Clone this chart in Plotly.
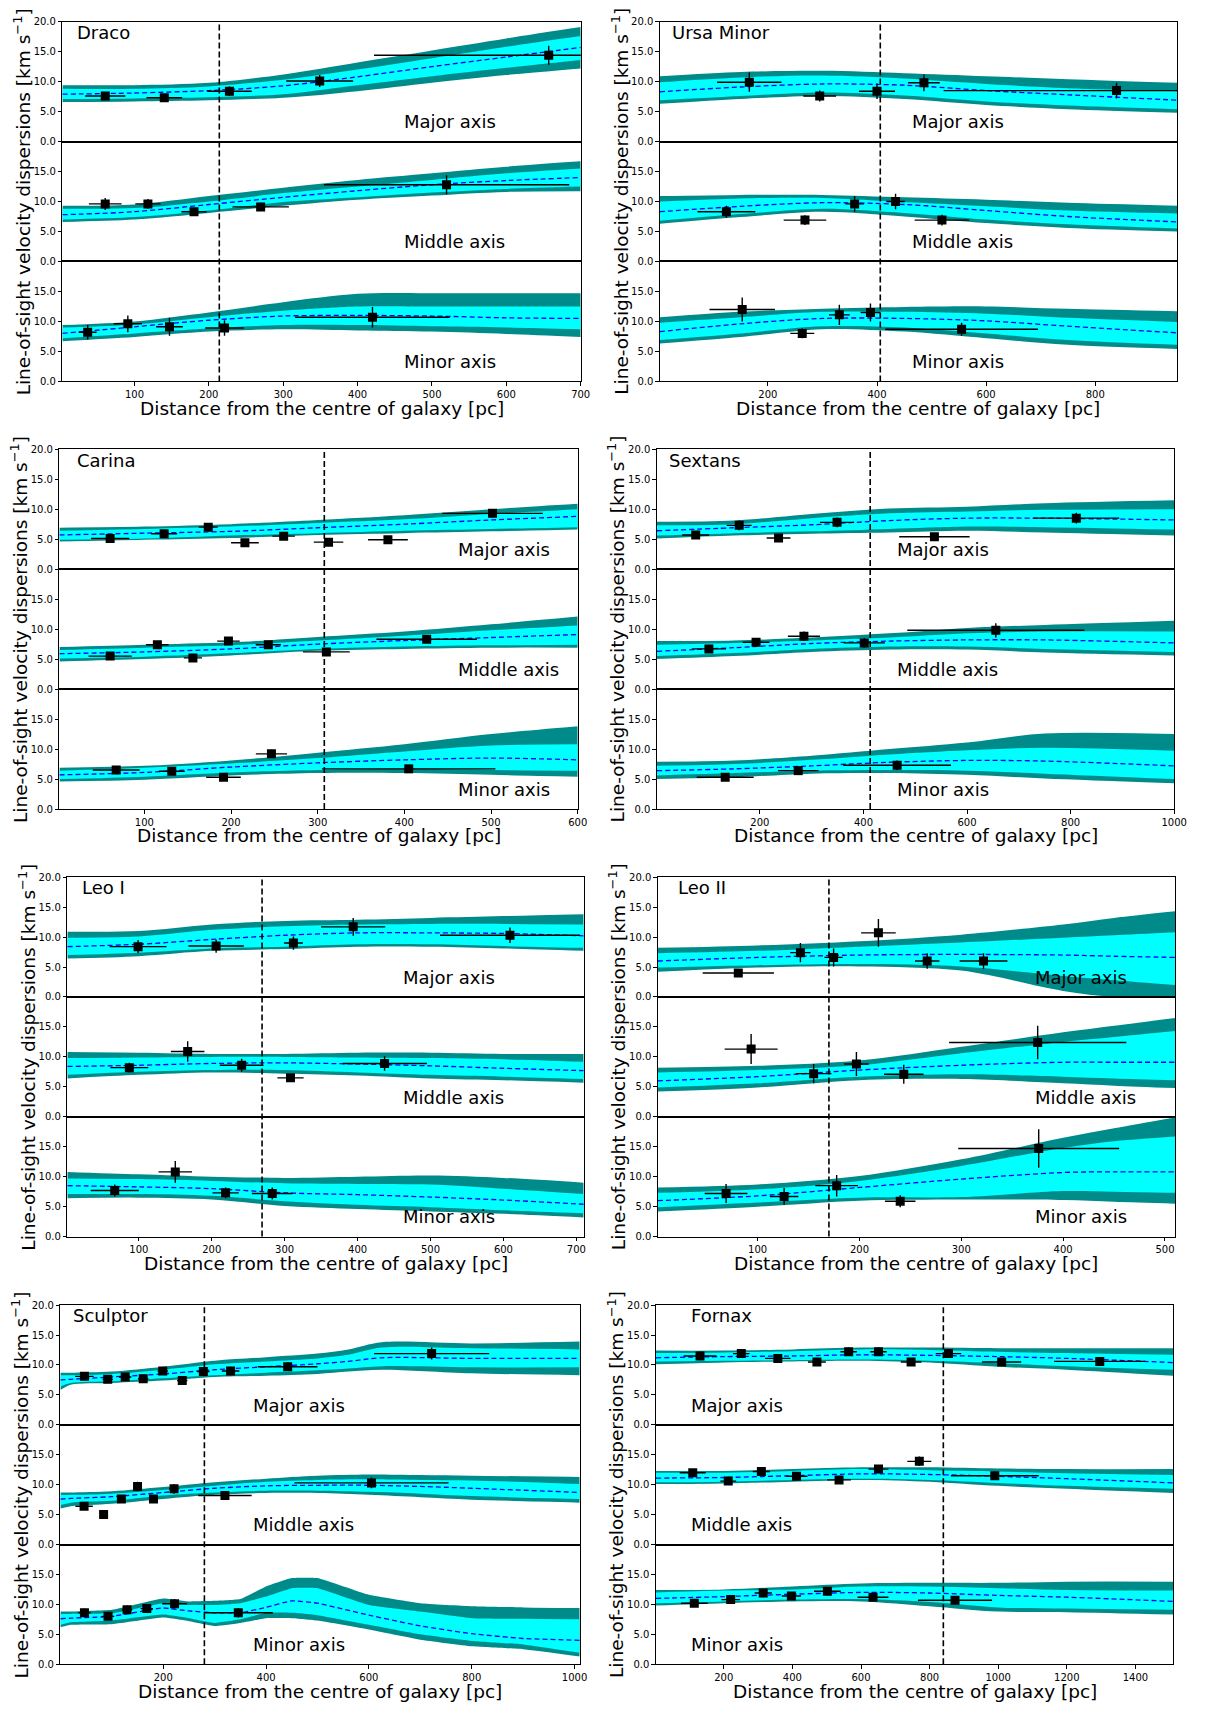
import plotly.graph_objects as go

PAGE_OFF = 8            # browser body margin
W, H = 1194, 1697       # figure size so that page = 1210 x 1713
FONT = "DejaVu Sans"

# ---------------- chart metadata ----------------
galaxies = ["Draco", "Ursa Minor", "Carina", "Sextans", "Leo I", "Leo II", "Sculptor", "Fornax"]
axis_labels = ["Major axis", "Middle axis", "Minor axis"]
x_ranges = [[3, 700], [2, 950], [2, 600], [1, 1000], [2, 710], [2, 510], [0, 1010], [2, 1510]]
x_ticks = [[100, 200, 300, 400, 500, 600, 700], [200, 400, 600, 800], [100, 200, 300, 400, 500, 600],
           [200, 400, 600, 800, 1000], [100, 200, 300, 400, 500, 600, 700], [100, 200, 300, 400, 500],
           [200, 400, 600, 800, 1000], [200, 400, 600, 800, 1000, 1200, 1400]]
y_ticks = [0, 5, 10, 15, 20]
vline_r = [214, 406, 307.6, 413, 269, 170, 280, 840]
name_x = [20, 20, 20, 20, 20, 20, 20, 100]
label_x = [460, 460, 460, 460, 460, 370, 370, 100]

# band order in each *_band list: [outer upper, inner upper, median, inner lower, outer lower]
# points: [radius, dispersion, radius error, dispersion error]

# ---------------- Draco ----------------
draco_r = [3, 100, 200, 300, 400, 500, 600, 700]
draco_major_band = [[9.4, 9.4, 9.8, 11.2, 13.2, 15.2, 17.2, 19.1],
                    [8.8, 8.8, 9.2, 10.3, 12.0, 13.9, 15.8, 17.6],
                    [7.9, 8.1, 8.5, 9.3, 10.8, 12.5, 14.1, 15.7],
                    [7.1, 7.2, 7.4, 7.9, 9.4, 10.9, 12.3, 13.6],
                    [6.6, 6.7, 6.9, 7.3, 8.4, 9.8, 11.1, 12.2]]
draco_major_pts = [[60.6, 7.6, 27, 0.6], [140, 7.3, 24, 0.5], [227.6, 8.4, 30, 0.8],
                   [349, 10.1, 45, 1.0], [657, 14.4, 235, 1.6]]
draco_middle_band = [[9.3, 9.5, 10.9, 12.3, 13.6, 14.7, 15.8, 16.7],
                     [8.8, 8.9, 10.0, 11.4, 12.5, 13.6, 14.7, 15.5],
                     [7.8, 8.3, 9.5, 10.7, 11.8, 12.8, 13.5, 14.0],
                     [7.0, 7.4, 8.5, 9.9, 10.7, 11.5, 12.1, 12.5],
                     [6.6, 7.0, 8.1, 9.3, 10.3, 11.0, 11.6, 11.7]]
draco_middle_pts = [[60.6, 9.6, 22, 1.0], [118, 9.6, 17, 0.8], [180, 8.3, 17, 0.6],
                    [269.6, 9.1, 38, 0.7], [519.6, 12.8, 165, 1.6]]
draco_minor_band = [[9.4, 10.0, 11.5, 13.2, 14.6, 14.7, 14.7, 14.7],
                    [9.0, 9.5, 10.7, 11.8, 12.5, 12.5, 12.5, 12.5],
                    [8.0, 9.1, 10.2, 10.9, 11.0, 10.9, 10.6, 10.5],
                    [7.2, 8.0, 8.8, 9.4, 9.4, 9.2, 9.0, 8.7],
                    [6.7, 7.4, 8.3, 8.7, 8.5, 8.3, 7.9, 7.4]]
draco_minor_pts = [[37, 8.2, 12, 1.2], [91, 9.6, 19, 1.4], [147, 9.1, 18, 1.5],
                   [221, 8.9, 26, 1.3], [420, 10.7, 104, 1.7]]

# ---------------- Ursa Minor ----------------
umi_r = [2, 150, 300, 450, 600, 750, 950]
umi_major_band = [[10.9, 11.6, 11.8, 11.4, 10.9, 10.4, 9.8],
                  [9.9, 10.7, 11.0, 10.5, 9.6, 8.9, 8.4],
                  [8.3, 9.1, 9.6, 9.4, 8.5, 7.8, 6.9],
                  [6.9, 7.6, 8.2, 7.7, 6.7, 6.0, 5.4],
                  [6.3, 7.1, 7.6, 7.1, 6.1, 5.4, 4.8]]
umi_major_pts = [[166, 9.9, 59, 1.6], [295, 7.6, 30, 0.9], [400, 8.4, 33, 1.3],
                 [486, 9.8, 29, 1.4], [839, 8.5, 317, 1.3]]
umi_middle_band = [[10.9, 11.1, 11.1, 10.7, 10.3, 9.8, 9.3],
                   [10.0, 10.5, 10.6, 9.9, 9.2, 8.5, 8.0],
                   [8.3, 9.2, 9.8, 9.5, 8.5, 7.5, 6.6],
                   [6.8, 7.9, 8.8, 8.1, 7.0, 6.2, 5.5],
                   [6.3, 7.4, 8.3, 7.5, 6.4, 5.6, 5.0]]
umi_middle_pts = [[124, 8.3, 53, 1.0], [268, 6.9, 39, 0.8], [359, 9.6, 17, 1.3],
                  [434, 10.0, 17, 1.3], [519, 6.9, 50, 0.9]]
umi_minor_band = [[10.7, 11.6, 12.1, 12.4, 12.5, 12.1, 11.7],
                  [9.8, 10.7, 11.6, 11.6, 11.3, 10.6, 9.9],
                  [8.3, 9.6, 10.5, 10.5, 10.1, 9.2, 8.1],
                  [6.9, 8.0, 9.2, 9.0, 8.0, 6.9, 6.1],
                  [6.3, 7.4, 8.7, 8.3, 7.2, 6.1, 5.4]]
umi_minor_pts = [[153, 12.0, 60, 2.0], [263, 8.0, 22, 0.8], [331, 11.1, 19, 1.7],
                 [388, 11.5, 18, 1.5], [555, 8.7, 140, 1.1]]

# ---------------- Carina ----------------
car_r = [2, 100, 200, 300, 400, 500, 600]
car_major_band = [[6.9, 7.1, 7.5, 8.2, 9.0, 10.0, 10.9],
                  [6.4, 6.7, 7.1, 7.7, 8.3, 9.2, 10.0],
                  [5.7, 6.0, 6.3, 6.9, 7.5, 8.2, 8.8],
                  [4.9, 5.1, 5.6, 6.0, 6.4, 6.7, 7.0],
                  [4.6, 4.9, 5.2, 5.7, 6.0, 6.3, 6.6]]
car_major_pts = [[60.5, 5.1, 22, 0.5], [122.8, 5.9, 15, 0.5], [173.7, 7.0, 11, 0.5],
                 [216, 4.4, 16, 0.4], [260.7, 5.5, 13, 0.5], [312.5, 4.5, 17, 0.5],
                 [381, 4.9, 23, 0.4], [501.7, 9.3, 58, 0.7]]
car_middle_band = [[7.0, 7.4, 7.8, 8.7, 9.6, 10.8, 12.1],
                   [6.5, 6.9, 7.3, 8.1, 8.9, 9.8, 10.6],
                   [5.9, 6.2, 6.7, 7.5, 8.1, 8.6, 9.1],
                   [5.1, 5.4, 6.0, 6.7, 7.1, 7.3, 7.4],
                   [4.6, 5.0, 5.6, 6.4, 6.7, 6.9, 6.9]]
car_middle_pts = [[60.5, 5.5, 25, 0.4], [115, 7.4, 13, 0.6], [156, 5.2, 10.5, 0.4],
                  [197, 8.0, 13, 0.6], [243, 7.4, 14.5, 0.6], [310, 6.2, 27, 0.5],
                  [425.7, 8.3, 58, 0.6]]
car_minor_band = [[6.9, 7.2, 8.1, 9.4, 10.8, 12.5, 13.8],
                  [6.4, 6.9, 7.6, 8.5, 9.6, 10.6, 10.8],
                  [5.7, 6.1, 7.0, 7.7, 8.2, 8.5, 8.2],
                  [5.0, 5.4, 6.1, 6.5, 6.7, 6.5, 6.4],
                  [4.6, 4.9, 5.6, 6.0, 6.0, 5.7, 5.4]]
car_minor_pts = [[67.5, 6.5, 27, 0.4], [131.6, 6.3, 15, 0.4], [191.3, 5.3, 20, 0.3],
                 [246.6, 9.2, 18, 0.7], [405, 6.7, 100, 0.5]]

# ---------------- Sextans ----------------
sex_r = [1, 150, 300, 450, 600, 750, 1000]
sex_major_band = [[7.9, 8.1, 9.2, 10.1, 10.4, 11.0, 11.5],
                  [7.3, 7.5, 8.5, 9.3, 9.6, 9.9, 10.0],
                  [6.4, 6.9, 7.4, 8.1, 8.5, 8.5, 8.2],
                  [5.6, 6.0, 6.3, 6.7, 7.1, 7.0, 6.6],
                  [5.1, 5.6, 5.9, 6.1, 6.4, 6.1, 5.6]]
sex_major_pts = [[76, 5.7, 26, 0.6], [160, 7.3, 24, 0.8], [236, 5.2, 23, 0.5],
                 [349, 7.8, 33, 0.8], [537, 5.4, 68, 0.5], [811, 8.5, 83, 0.9]]
sex_middle_band = [[8.0, 8.1, 8.6, 9.3, 10.2, 10.7, 11.4],
                   [7.4, 7.7, 8.1, 8.6, 9.3, 9.6, 9.6],
                   [6.3, 6.9, 7.6, 8.0, 8.2, 8.2, 7.7],
                   [5.5, 6.0, 6.7, 7.1, 7.1, 6.7, 6.2],
                   [5.0, 5.5, 6.2, 6.6, 6.6, 6.1, 5.6]]
sex_middle_pts = [[101.5, 6.7, 33, 0.7], [192.6, 7.8, 26, 0.7], [285, 8.8, 31, 0.8],
                  [401.5, 7.7, 40, 0.8], [655.6, 9.8, 171, 1.2]]
sex_minor_band = [[7.9, 8.1, 8.9, 10.0, 11.1, 12.6, 12.5],
                  [7.2, 7.5, 8.2, 9.1, 9.8, 10.2, 9.7],
                  [6.4, 6.7, 7.2, 7.8, 8.1, 8.0, 7.2],
                  [5.6, 6.0, 6.4, 6.5, 6.4, 5.9, 5.0],
                  [5.0, 5.3, 5.9, 6.0, 5.7, 5.1, 4.3]]
sex_minor_pts = [[133, 5.3, 55, 0.4], [274, 6.4, 39, 0.6], [465, 7.3, 104, 0.8]]

# ---------------- Leo I ----------------
leo1_r = [2, 100, 200, 300, 400, 500, 600, 710]
leo1_major_band = [[10.9, 11.0, 12.1, 12.7, 12.9, 13.2, 13.5, 13.8],
                   [9.9, 10.1, 11.2, 11.8, 12.1, 12.2, 12.2, 12.1],
                   [8.4, 8.8, 9.6, 10.3, 10.7, 10.7, 10.6, 10.2],
                   [7.0, 7.4, 8.1, 8.4, 8.8, 8.8, 8.5, 8.2],
                   [6.4, 6.8, 7.7, 8.0, 8.4, 8.4, 8.1, 7.7]]
leo1_major_pts = [[99, 8.4, 39, 1.1], [206, 8.5, 38, 1.1], [312, 9.0, 13, 1.1],
                  [394, 11.7, 44, 1.5], [609, 10.3, 96, 1.3]]
leo1_middle_band = [[10.8, 10.7, 10.5, 10.5, 10.7, 10.7, 10.5, 10.5],
                    [9.8, 9.9, 10.0, 10.0, 9.9, 9.8, 9.6, 9.2],
                    [8.4, 8.6, 8.9, 9.0, 8.8, 8.5, 8.1, 7.7],
                    [7.0, 7.5, 7.8, 7.8, 7.4, 7.0, 6.7, 6.3],
                    [6.4, 7.0, 7.4, 7.2, 6.9, 6.4, 6.1, 5.7]]
leo1_middle_pts = [[87, 8.2, 26, 0.8], [167, 10.9, 23, 1.7], [241, 8.6, 30, 1.1],
                   [308, 6.5, 18, 0.6], [437, 8.9, 58, 1.2]]
leo1_minor_band = [[10.8, 10.4, 10.0, 9.8, 10.0, 10.2, 9.8, 9.0],
                   [9.7, 9.6, 9.3, 8.9, 8.8, 8.7, 8.0, 7.1],
                   [8.5, 8.3, 8.0, 7.3, 7.0, 6.6, 6.1, 5.4],
                   [7.1, 7.1, 6.8, 5.9, 5.3, 4.9, 4.4, 3.9],
                   [6.4, 6.5, 6.2, 5.1, 4.6, 4.2, 3.8, 3.2]]
leo1_minor_pts = [[67, 7.7, 33, 1.0], [150, 10.8, 23, 1.8], [219, 7.3, 18, 0.9],
                  [283, 7.2, 28, 1.0]]

# ---------------- Leo II ----------------
leo2_r = [2, 100, 200, 300, 400, 450, 510]
leo2_major_band = [[8.2, 8.6, 9.3, 10.4, 12.1, 13.2, 14.3],
                   [7.3, 7.7, 8.4, 9.1, 9.9, 10.3, 10.8],
                   [6.0, 6.6, 7.0, 7.1, 7.0, 6.8, 6.6],
                   [4.9, 5.3, 5.5, 5.1, 3.5, 2.8, 2.0],
                   [4.2, 4.9, 5.1, 4.4, 1.0, 0.0, 0.0]]
leo2_major_pts = [[81, 4.0, 35, 0.5], [142, 7.4, 10, 1.6], [174.6, 6.6, 9, 1.5],
                  [218.6, 10.7, 17, 2.3], [266.5, 6.0, 12, 1.3], [321.8, 6.0, 23.5, 1.3]]
leo2_middle_band = [[8.2, 8.5, 9.4, 11.7, 14.1, 15.2, 16.5],
                    [7.4, 7.8, 8.6, 10.6, 12.5, 13.3, 14.3],
                    [6.0, 6.7, 7.8, 8.6, 9.1, 9.1, 9.1],
                    [4.9, 5.6, 6.7, 7.1, 6.7, 6.4, 6.1],
                    [4.2, 4.9, 6.1, 6.3, 5.6, 5.2, 4.8]]
leo2_middle_pts = [[93.6, 11.3, 26, 2.5], [155, 7.2, 17.5, 1.6], [197, 8.8, 12, 2.0],
                   [243.5, 7.1, 19.4, 1.6], [375, 12.4, 87, 2.8]]
leo2_minor_band = [[8.2, 8.7, 10.1, 12.9, 16.5, 18.1, 19.9],
                   [7.3, 7.9, 9.3, 11.8, 14.8, 15.9, 16.7],
                   [6.0, 6.8, 8.2, 9.6, 10.7, 10.8, 10.8],
                   [4.9, 5.7, 6.5, 6.6, 7.6, 7.5, 7.3],
                   [4.2, 5.0, 6.0, 6.2, 6.1, 5.8, 5.5]]
leo2_minor_pts = [[69, 7.2, 21, 1.6], [126, 6.7, 14, 1.4], [177.6, 8.5, 21, 1.8],
                  [240, 5.9, 15, 1.0], [376, 14.7, 79, 3.2]]

# ---------------- Sculptor ----------------
scl_major_r = [0, 20, 100, 200, 300, 400, 500, 560, 625, 800, 1010]
scl_major_band = [[8.7, 8.7, 8.9, 9.7, 10.7, 11.3, 11.9, 12.6, 13.8, 13.6, 13.9],
                  [8.3, 8.3, 8.5, 9.2, 10.1, 10.6, 11.1, 11.7, 12.9, 12.8, 12.6],
                  [7.5, 7.6, 8.0, 8.5, 9.2, 9.7, 10.2, 10.6, 11.2, 11.1, 11.1],
                  [6.4, 7.0, 7.3, 7.8, 8.3, 8.7, 9.1, 9.4, 9.8, 9.6, 9.6],
                  [5.8, 6.7, 7.0, 7.4, 8.0, 8.2, 8.5, 8.9, 9.2, 8.6, 8.3]]
scl_major_pts = [[46.7, 8.1, 18, 0.6], [92, 7.6, 10, 0.5], [126, 8.0, 12, 0.5],
                 [161, 7.7, 10, 0.5], [199, 9.0, 10, 0.6], [237, 7.4, 10, 0.6],
                 [278, 8.9, 12, 0.6], [331, 9.0, 17, 0.7], [442, 9.7, 58, 0.7],
                 [722, 11.9, 112, 1.0]]
scl_middle_r = [0, 20, 100, 200, 300, 400, 500, 600, 700, 800, 1010]
scl_middle_band = [[8.7, 8.7, 8.9, 9.6, 10.4, 11.0, 11.5, 11.7, 11.6, 11.5, 11.3],
                   [8.3, 8.3, 8.5, 9.1, 9.8, 10.5, 10.8, 10.9, 10.8, 10.7, 10.1],
                   [7.6, 7.7, 8.0, 8.7, 9.4, 9.8, 9.9, 9.9, 9.7, 9.4, 8.7],
                   [6.6, 7.0, 7.3, 8.2, 8.7, 9.0, 9.0, 8.8, 8.5, 8.1, 7.6],
                   [6.0, 6.4, 6.8, 7.6, 8.3, 8.6, 8.6, 8.3, 7.9, 7.5, 7.0]]
scl_middle_pts = [[46, 6.4, 17, 0.5], [84, 5.0, 5, 0.4], [118.5, 7.6, 8, 0.6],
                  [150, 9.7, 8, 0.8], [181, 7.6, 8, 0.6], [221, 9.3, 10, 0.8],
                  [320, 8.2, 52, 0.6], [605, 10.3, 150, 0.9]]
scl_minor_r = [0, 20, 100, 200, 250, 300, 350, 400, 450, 500, 600, 700, 800, 900, 1010]
scl_minor_band = [[8.8, 8.8, 9.1, 11.0, 10.5, 10.6, 10.9, 13.0, 14.4, 14.4, 11.6, 10.2, 9.7, 9.5, 9.4],
                  [8.4, 8.4, 8.5, 10.2, 9.9, 9.9, 10.2, 11.3, 12.7, 12.7, 9.9, 8.8, 7.7, 7.6, 7.5],
                  [7.6, 7.7, 8.0, 9.4, 8.9, 8.6, 8.6, 9.5, 10.6, 10.2, 8.2, 6.4, 5.1, 4.3, 4.0],
                  [6.6, 7.0, 7.3, 8.3, 7.7, 6.9, 7.5, 8.6, 8.6, 8.2, 6.6, 5.0, 3.9, 3.3, 1.9],
                  [6.2, 6.6, 6.7, 7.8, 7.2, 6.4, 6.9, 7.7, 7.7, 7.3, 5.8, 4.1, 3.0, 2.5, 1.3]]
scl_minor_pts = [[46.7, 8.6, 12, 0.7], [92.6, 8.0, 12, 0.6], [129.6, 9.1, 10, 0.7],
                 [168, 9.3, 12, 0.7], [222, 10.1, 24, 0.8], [346, 8.6, 67, 0.8]]

# ---------------- Fornax ----------------
fnx_r = [2, 200, 400, 600, 800, 1000, 1200, 1510]
fnx_major_band = [[12.4, 12.4, 12.6, 12.9, 12.9, 12.8, 12.8, 12.8],
                  [12.0, 12.1, 12.3, 12.6, 12.5, 12.2, 12.0, 11.7],
                  [11.2, 11.4, 11.5, 11.7, 11.6, 11.4, 11.1, 10.4],
                  [10.6, 10.7, 10.8, 10.9, 10.7, 10.3, 9.8, 9.2],
                  [10.1, 10.4, 10.6, 10.7, 10.4, 9.7, 9.2, 8.2]]
fnx_major_pts = [[130.7, 11.5, 48, 0.7], [251, 11.9, 24, 0.6], [357.5, 11.1, 37, 0.6],
                 [471.5, 10.5, 26, 0.5], [564, 12.2, 24, 0.7], [651, 12.2, 24, 0.7],
                 [746, 10.5, 30, 0.5], [855, 11.9, 37, 0.7], [1010, 10.5, 57, 0.6],
                 [1296, 10.6, 133, 0.6]]
fnx_middle_band = [[12.3, 12.3, 12.6, 12.9, 12.9, 12.7, 12.6, 12.6],
                   [12.0, 12.0, 12.3, 12.6, 12.4, 12.2, 11.9, 11.6],
                   [11.1, 11.2, 11.5, 11.8, 11.7, 11.4, 11.0, 10.3],
                   [10.4, 10.5, 10.8, 11.0, 10.8, 10.3, 9.8, 9.3],
                   [10.1, 10.2, 10.5, 10.8, 10.5, 9.8, 9.3, 8.6]]
fnx_middle_pts = [[109.5, 12.0, 38, 0.6], [213, 10.6, 23, 0.5], [309.5, 12.2, 25, 0.7],
                  [412, 11.4, 32, 0.6], [536, 10.8, 35, 0.5], [651, 12.6, 29, 0.7],
                  [770, 13.9, 35, 0.8], [990, 11.5, 128, 0.7]]
fnx_minor_band = [[12.4, 12.5, 13.0, 13.5, 13.6, 13.6, 13.8, 13.8],
                  [12.0, 12.3, 12.5, 13.0, 13.0, 12.7, 12.4, 12.3],
                  [11.0, 11.3, 11.7, 12.0, 11.9, 11.5, 11.2, 10.5],
                  [10.2, 10.5, 10.8, 10.9, 10.4, 9.5, 9.3, 9.1],
                  [9.8, 10.2, 10.5, 10.5, 9.7, 8.8, 8.7, 8.3]]
fnx_minor_pts = [[114, 10.2, 39, 0.6], [220, 10.8, 27, 0.6], [315, 11.9, 25, 0.7],
                 [397, 11.4, 28, 0.6], [502, 12.2, 39, 0.7], [635, 11.2, 45, 0.6],
                 [874, 10.7, 108, 0.6]]

# gather per galaxy: list of (r, band, pts) for major / middle / minor
panels = [
    [(draco_r, draco_major_band, draco_major_pts), (draco_r, draco_middle_band, draco_middle_pts),
     (draco_r, draco_minor_band, draco_minor_pts)],
    [(umi_r, umi_major_band, umi_major_pts), (umi_r, umi_middle_band, umi_middle_pts),
     (umi_r, umi_minor_band, umi_minor_pts)],
    [(car_r, car_major_band, car_major_pts), (car_r, car_middle_band, car_middle_pts),
     (car_r, car_minor_band, car_minor_pts)],
    [(sex_r, sex_major_band, sex_major_pts), (sex_r, sex_middle_band, sex_middle_pts),
     (sex_r, sex_minor_band, sex_minor_pts)],
    [(leo1_r, leo1_major_band, leo1_major_pts), (leo1_r, leo1_middle_band, leo1_middle_pts),
     (leo1_r, leo1_minor_band, leo1_minor_pts)],
    [(leo2_r, leo2_major_band, leo2_major_pts), (leo2_r, leo2_middle_band, leo2_middle_pts),
     (leo2_r, leo2_minor_band, leo2_minor_pts)],
    [(scl_major_r, scl_major_band, scl_major_pts), (scl_middle_r, scl_middle_band, scl_middle_pts),
     (scl_minor_r, scl_minor_band, scl_minor_pts)],
    [(fnx_r, fnx_major_band, fnx_major_pts), (fnx_r, fnx_middle_band, fnx_middle_pts),
     (fnx_r, fnx_minor_band, fnx_minor_pts)],
]
smoothing = [[0.9] * 3] * 6 + [[0.9, 0.9, 0.35], [0.9] * 3]

# panel frame in page pixels: left, right, top, bottom
frames = [(63, 587, 15.7, 378), (667, 1190, 15.7, 378),
          (60, 584, 446.3, 808.7), (664, 1187, 446.3, 808.7),
          (68, 590, 877.3, 1239.3), (665, 1188, 877.3, 1239.3),
          (61, 586, 1308.3, 1670), (663, 1186, 1308.3, 1670)]


def px(x):
    return (x - PAGE_OFF) / W


def py(y):
    return 1 - (y - PAGE_OFF) / H


OUTER = "#008b8b"
INNER = "#00ffff"

fig = go.Figure()
layout = dict(width=W, height=H, margin=dict(l=0, r=0, t=0, b=0),
              paper_bgcolor="white", plot_bgcolor="white", showlegend=False,
              font=dict(family=FONT, color="black"))
annotations = []
shapes = []

for p in range(8):
    L, R, T, B = frames[p]
    h3 = (B - T) / 3.0
    for s in range(3):
        k = p * 3 + s + 1
        xn = "x" if k == 1 else f"x{k}"
        yn = "y" if k == 1 else f"y{k}"
        xkey = "xaxis" if k == 1 else f"xaxis{k}"
        ykey = "yaxis" if k == 1 else f"yaxis{k}"
        t_px = T + s * h3
        b_px = T + (s + 1) * h3
        bottom = (s == 2)
        layout[xkey] = dict(domain=[px(L), px(R)], range=x_ranges[p], anchor=yn,
                            showline=True, linecolor="black", linewidth=1, mirror=True,
                            showgrid=False, zeroline=False,
                            ticks="outside" if bottom else "", ticklen=3.5, tickwidth=1,
                            tickcolor="black", tickvals=x_ticks[p],
                            showticklabels=bottom, tickfont=dict(size=10, family=FONT, color="black"))
        yt = y_ticks if s == 0 else y_ticks[:-1]
        layout[ykey] = dict(domain=[py(b_px), py(t_px)], range=[0, 20], anchor=xn,
                            showline=True, linecolor="black", linewidth=1, mirror=True,
                            showgrid=False, zeroline=False, ticks="outside", ticklen=3.5,
                            tickwidth=1, tickcolor="black", tickvals=yt,
                            ticktext=[f"{v:.1f}" for v in yt],
                            tickfont=dict(size=10, family=FONT, color="black"))

        r, band, pts = panels[p][s]
        ou, iu, med, il, ol = band
        sm = smoothing[p][s]
        common = dict(xaxis=xn, yaxis=yn, hoverinfo="skip", showlegend=False)
        sp = dict(shape="spline", smoothing=sm, width=0)
        fig.add_trace(go.Scatter(x=r, y=ol, mode="lines", line=sp, **common))
        fig.add_trace(go.Scatter(x=r, y=ou, mode="lines", line=sp, fill="tonexty",
                                 fillcolor=OUTER, **common))
        fig.add_trace(go.Scatter(x=r, y=il, mode="lines", line=sp, **common))
        fig.add_trace(go.Scatter(x=r, y=iu, mode="lines", line=sp, fill="tonexty",
                                 fillcolor=INNER, **common))
        fig.add_trace(go.Scatter(x=r, y=med, mode="lines",
                                 line=dict(color="blue", width=1.3, dash="5px,3px",
                                           shape="spline", smoothing=sm), **common))
        fig.add_trace(go.Scatter(
            x=[q[0] for q in pts], y=[q[1] for q in pts], mode="markers",
            marker=dict(symbol="square", size=9, color="black"),
            error_x=dict(type="data", array=[q[2] for q in pts], color="black", thickness=1.4, width=0),
            error_y=dict(type="data", array=[q[3] for q in pts], color="black", thickness=1.4, width=0),
            **common))

        annotations.append(dict(x=label_x[p], y=3.3, xref=xn, yref=yn, text=axis_labels[s],
                                showarrow=False, xanchor="left", yanchor="middle",
                                font=dict(size=18, family=FONT, color="black")))
        if s == 0:
            annotations.append(dict(x=name_x[p], y=18.2, xref=xn, yref=yn, text=galaxies[p],
                                    showarrow=False, xanchor="left", yanchor="middle",
                                    font=dict(size=18, family=FONT, color="black")))
            shapes.append(dict(type="line", xref=xn, yref="paper", x0=vline_r[p], x1=vline_r[p],
                               y0=py(B), y1=py(T),
                               line=dict(color="black", width=1.6, dash="6px,3px")))

    # axis titles
    annotations.append(dict(x=px((L + R) / 2), y=py(B + 27), xref="paper", yref="paper",
                            text="Distance from the centre of galaxy [pc]", showarrow=False,
                            xanchor="center", yanchor="middle",
                            font=dict(size=18.5, family=FONT, color="black")))
    annotations.append(dict(x=px(L - 41), y=py((T + B) / 2), xref="paper", yref="paper",
                            text="Line-of-sight velocity dispersions [km s<sup>\u22121</sup>]",
                            showarrow=False, textangle=-90, xanchor="center", yanchor="middle",
                            font=dict(size=18.5, family=FONT, color="black")))

layout["annotations"] = annotations
layout["shapes"] = shapes
fig.update_layout(**layout)
fig.write_html("out.html")
